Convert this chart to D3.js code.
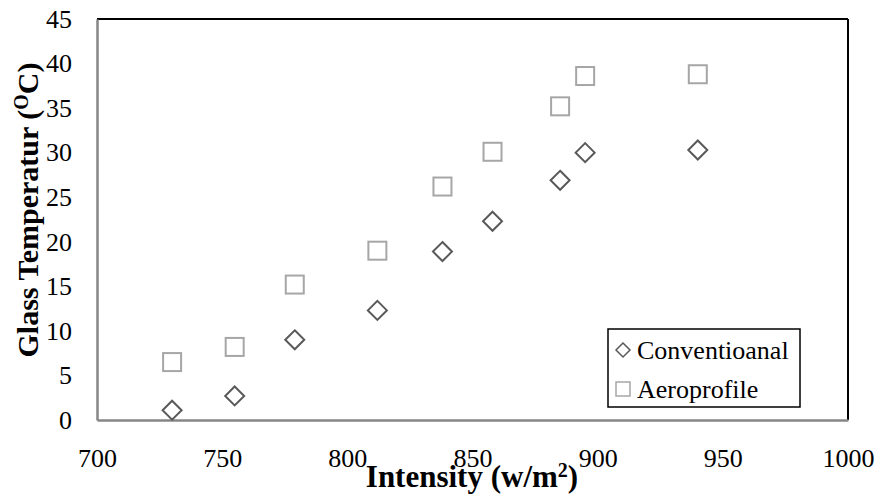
<!DOCTYPE html>
<html>
<head>
<meta charset="utf-8">
<script src="https://cdn.jsdelivr.net/npm/d3@7"></script>
<style>
  body { margin: 0; background: #fff; }
  text { font-family: "Liberation Serif", "Times New Roman", serif; fill: #000; }
</style>
</head>
<body>
<div id="chart"></div>
<script>
// data
var intensity = [730, 755, 779, 812, 838, 858, 885, 895, 940];
var conventional = [1.1, 2.7, 9.0, 12.3, 18.9, 22.3, 26.9, 30.0, 30.3];
var aeroprofile = [6.5, 8.2, 15.2, 19.0, 26.2, 30.1, 35.2, 38.6, 38.8];
var xTicks = [700, 750, 800, 850, 900, 950, 1000];
var yTicks = [0, 5, 10, 15, 20, 25, 30, 35, 40, 45];

var W = 877, H = 497;
var margin = {top: 19, right: 29, bottom: 77, left: 97};
var width = W - margin.left - margin.right,
    height = H - margin.top - margin.bottom;

var svg = d3.select("#chart").append("svg")
  .attr("width", W).attr("height", H);
var g = svg.append("g").attr("transform", "translate(" + margin.left + "," + margin.top + ")");

var x = d3.scaleLinear().domain([700, 1000]).range([0, width]);
var y = d3.scaleLinear().domain([0, 45]).range([height, 0]);

// frame: top & right black, left & bottom gray
g.append("line").attr("x1", 0).attr("x2", width).attr("y1", 0).attr("y2", 0)
  .attr("stroke", "#000").attr("stroke-width", 2);
g.append("line").attr("x1", width).attr("x2", width).attr("y1", 0).attr("y2", height)
  .attr("stroke", "#000").attr("stroke-width", 2);

var xAxis = g.append("g").attr("transform", "translate(0," + height + ")")
  .call(d3.axisBottom(x).tickValues(xTicks).tickSize(0).tickPadding(29).tickFormat(d3.format("d")));
var yAxis = g.append("g")
  .call(d3.axisLeft(y).tickValues(yTicks).tickSize(0).tickPadding(25));
[xAxis, yAxis].forEach(function(a) {
  a.select(".domain").attr("stroke", "#868686").attr("stroke-width", 2.5);
  a.selectAll("text").style("font-family", "Liberation Serif").style("font-size", "26px").attr("fill", "#000");
});

function diamondPath(s) { return "M0," + (-s) + "L" + s + ",0L0," + s + "L" + (-s) + ",0Z"; }

// Aeroprofile squares
g.selectAll("rect.aero").data(aeroprofile).enter().append("rect")
  .attr("class", "aero")
  .attr("x", function(d, i) { return x(intensity[i]) - 9; })
  .attr("y", function(d) { return y(d) - 9; })
  .attr("width", 18).attr("height", 18)
  .attr("fill", "#fff").attr("stroke", "#a6a6a6").attr("stroke-width", 2);

// Conventional diamonds
g.selectAll("path.conv").data(conventional).enter().append("path")
  .attr("class", "conv")
  .attr("transform", function(d, i) { return "translate(" + x(intensity[i]) + "," + y(d) + ")"; })
  .attr("d", diamondPath(9.5))
  .attr("fill", "#fff").attr("stroke", "#595959").attr("stroke-width", 2);

// legend
var lg = svg.append("g").attr("transform", "translate(608,329)");
lg.append("rect").attr("width", 192).attr("height", 78)
  .attr("fill", "#fff").attr("stroke", "#000").attr("stroke-width", 1.5);
lg.append("path").attr("transform", "translate(15,21)").attr("d", diamondPath(7))
  .attr("fill", "#fff").attr("stroke", "#595959").attr("stroke-width", 1.5);
lg.append("rect").attr("x", 8).attr("y", 53).attr("width", 14).attr("height", 14)
  .attr("fill", "#fff").attr("stroke", "#a6a6a6").attr("stroke-width", 1.5);
lg.append("text").attr("x", 29).attr("y", 30).style("font-size", "26px").text("Conventioanal");
lg.append("text").attr("x", 29).attr("y", 69).style("font-size", "26px").text("Aeroprofile");

// axis titles
var xt = svg.append("text").attr("x", 472).attr("y", 487).attr("text-anchor", "middle")
  .style("font-size", "31px").style("font-weight", "bold");
xt.append("tspan").text("Intensity (w/m");
xt.append("tspan").attr("dy", -10).style("font-size", "20px").text("2");
xt.append("tspan").attr("dy", 10).text(")");

var yt = svg.append("text").attr("transform", "translate(38,210) rotate(-90)").attr("text-anchor", "middle")
  .style("font-size", "30px").style("font-weight", "bold");
yt.append("tspan").text("Glass Temperatur (");
yt.append("tspan").attr("dy", -10).style("font-size", "20px").text("O");
yt.append("tspan").attr("dy", 10).text("C)");
</script>
</body>
</html>
